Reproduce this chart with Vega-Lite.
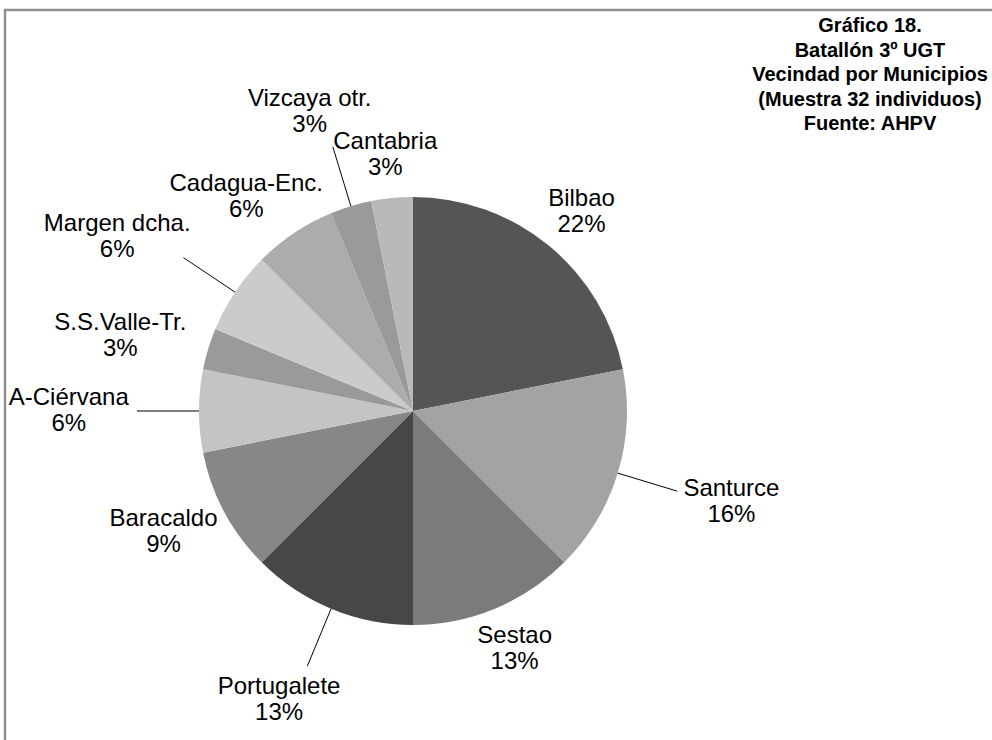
{
  "$schema": "https://vega.github.io/schema/vega-lite/v6.json",
  "width": 1000,
  "height": 740,
  "autosize": {"type": "none"},
  "padding": {"left": 5, "top": 10, "right": 0, "bottom": 0},
  "background": "white",
  "config": {"view": {"stroke": "#8f8f8f", "strokeWidth": 2.5}, "font": "Liberation Sans"},
  "title": {
    "text": ["Gráfico 18.", "Batallón 3º UGT", "Vecindad por Municipios", "(Muestra 32 individuos)", "Fuente: AHPV"],
    "anchor": "start", "frame": "group", "align": "center", "dx": 865, "baseline": "top", "offset": -124,
    "font": "Liberation Sans", "fontSize": 20, "fontWeight": "bold", "color": "#000000", "lineHeight": 24.5
  },
  "data": {"values": [
    {"municipio": "Bilbao", "n": 7},
    {"municipio": "Santurce", "n": 5},
    {"municipio": "Sestao", "n": 4},
    {"municipio": "Portugalete", "n": 4},
    {"municipio": "Baracaldo", "n": 3},
    {"municipio": "A-Ciérvana", "n": 2},
    {"municipio": "S.S.Valle-Tr.", "n": 1},
    {"municipio": "Margen dcha.", "n": 2},
    {"municipio": "Cadagua-Enc.", "n": 2},
    {"municipio": "Vizcaya otr.", "n": 1},
    {"municipio": "Cantabria", "n": 1}
  ]},
  "transform": [
    {"window": [{"op": "sum", "field": "n", "as": "cum"}, {"op": "row_number", "as": "idx"}], "frame": [null, 0]},
    {"joinaggregate": [{"op": "sum", "field": "n", "as": "total"}]},
    {"calculate": "(datum.cum - datum.n) / datum.total", "as": "f0"},
    {"calculate": "datum.cum / datum.total", "as": "f1"},
    {"calculate": "2 * PI * (datum.cum - datum.n / 2) / datum.total", "as": "mid"},
    {"calculate": "sin(datum.mid)", "as": "sx"},
    {"calculate": "cos(datum.mid)", "as": "cy"},
    {"calculate": "datum.idx % 2 == 0 ? 1.34 : 1.08", "as": "lr"},
    {"calculate": "datum.sx * (datum.lr + length(datum.municipio) * 0.02687)", "as": "lx"},
    {"calculate": "datum.cy * (datum.lr + 0.1215)", "as": "ly"},
    {"calculate": "datum.sx", "as": "ax"},
    {"calculate": "datum.cy", "as": "ay"},
    {"calculate": "datum.sx * (datum.lr - 0.05)", "as": "bx"},
    {"calculate": "datum.cy * (datum.lr - 0.05)", "as": "by"},
    {"calculate": "datum.municipio + '\\n' + format(datum.n / datum.total, '.0%')", "as": "etiqueta"}
  ],
  "layer": [
    {
      "mark": {"type": "arc", "outerRadius": 214, "stroke": null},
      "encoding": {
        "x": {"datum": 0, "type": "quantitative", "scale": {"domain": [-1.9065, 2.7664], "nice": false, "zero": false}, "axis": null},
        "y": {"datum": 0, "type": "quantitative", "scale": {"domain": [-1.5841, 1.8738], "nice": false, "zero": false}, "axis": null},
        "theta": {"field": "f0", "type": "quantitative", "stack": null, "scale": {"domain": [0, 1]}},
        "theta2": {"field": "f1"},
        "color": {
          "field": "municipio", "type": "nominal", "legend": null,
          "scale": {
            "domain": ["Bilbao", "Santurce", "Sestao", "Portugalete", "Baracaldo", "A-Ciérvana", "S.S.Valle-Tr.", "Margen dcha.", "Cadagua-Enc.", "Vizcaya otr.", "Cantabria"],
            "range": ["#555555", "#a3a3a3", "#7b7b7b", "#474747", "#878787", "#c4c4c4", "#9a9a9a", "#cbcbcb", "#acacac", "#9a9a9a", "#b9b9b9"]
          }
        }
      }
    },
    {
      "transform": [{"filter": "datum.idx % 2 == 0"}],
      "mark": {"type": "rule", "color": "#000000", "strokeWidth": 1},
      "encoding": {
        "x": {"field": "ax", "type": "quantitative", "scale": {"domain": [-1.9065, 2.7664], "nice": false, "zero": false}, "axis": null},
        "y": {"field": "ay", "type": "quantitative", "scale": {"domain": [-1.5841, 1.8738], "nice": false, "zero": false}, "axis": null},
        "x2": {"field": "bx"},
        "y2": {"field": "by"}
      }
    },
    {
      "mark": {"type": "text", "lineBreak": "\n", "fontSize": 24, "lineHeight": 26, "dy": -13, "color": "#000000", "align": "center", "baseline": "middle", "font": "Liberation Sans"},
      "encoding": {
        "x": {"field": "lx", "type": "quantitative", "scale": {"domain": [-1.9065, 2.7664], "nice": false, "zero": false}, "axis": null},
        "y": {"field": "ly", "type": "quantitative", "scale": {"domain": [-1.5841, 1.8738], "nice": false, "zero": false}, "axis": null},
        "text": {"field": "etiqueta"}
      }
    }
  ]
}
